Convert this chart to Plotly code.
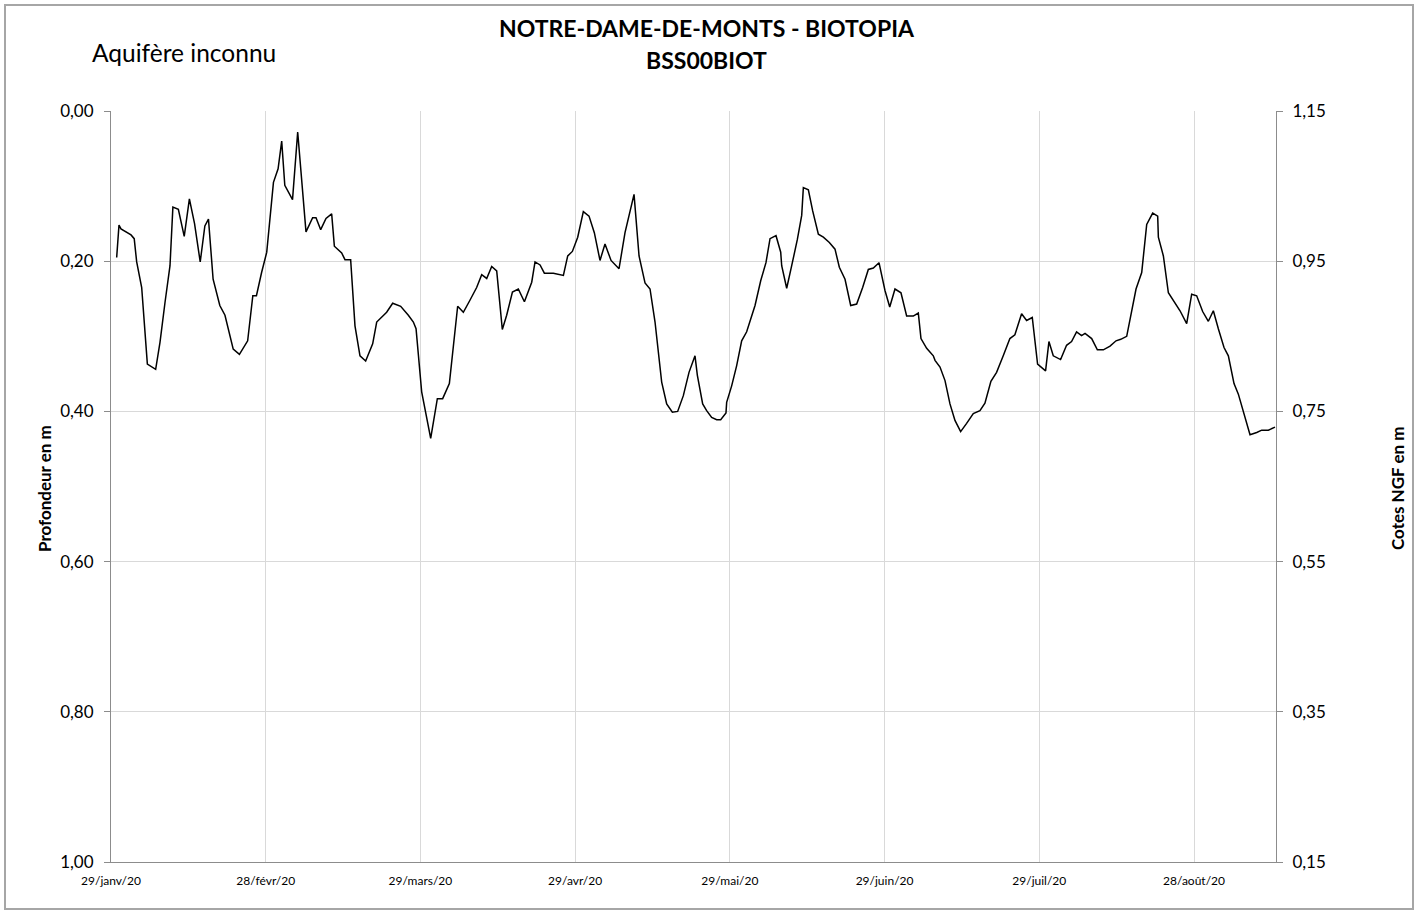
import plotly.graph_objects as go

# Rang de la mesure (0 = 29/01/2020) et profondeur de la nappe en m
jour = [
    1.1, 1.55, 1.94, 3.04, 3.88, 4.5, 4.98, 5.95, 7.05, 8.66, 9.5, 10.47, 11.44, 12.0,
    13.06, 14.2, 15.2, 16.2, 17.3, 18.2, 18.9, 19.8, 21.1, 22.1, 23.7, 24.9, 26.5, 27.5,
    28.2, 29.2, 30.2, 31.5, 32.4, 33.1, 33.7, 35.2, 36.2,
    37.81, 39.1, 39.75, 40.66, 41.69, 42.79, 43.31, 44.73, 45.37, 46.47, 47.31, 48.28,
    49.38, 50.74, 51.52, 53.45, 54.62, 56.17, 57.66, 58.63, 59.15, 60.24, 61.99, 63.28,
    64.31, 65.61, 67.22, 68.32, 69.6, 70.9, 71.88, 72.85, 73.82, 74.79,
    75.88, 76.72, 77.84, 78.98, 80.16, 81.58, 82.22, 83.2, 84.03, 85.78, 87.72, 88.56,
    89.46, 90.5, 91.59, 92.69, 93.72, 94.82, 95.79, 96.96, 98.51, 99.67, 101.42, 102.39,
    103.55, 104.52, 105.49, 106.78, 107.75, 108.85, 109.88, 110.98, 112.08, 113.24,
    113.7, 114.73, 115.5, 116.47, 117.45, 118.22, 119.25, 119.38, 120.35, 121.32, 122.29,
    123.26, 124.88, 125.98, 127.0, 127.79, 128.95, 129.86, 130.05, 131.02, 131.99, 133.09,
    133.93, 134.25, 135.22, 136.06, 137.16, 138.13, 139.29, 140.39, 141.23, 142.33, 143.43,
    144.59, 145.75, 146.85, 147.82, 148.92, 150.08,
    151.0, 152.02, 153.18, 154.28, 155.57, 156.54, 157.06, 158.16, 159.45, 159.78, 160.75,
    161.72, 162.68, 163.65, 164.75, 165.91, 167.2, 168.49, 169.46, 170.62, 171.72, 173.01,
    174.3, 175.27, 176.57, 177.54, 178.64, 179.67, 181.22, 181.87, 182.71, 184.13, 185.29,
    186.26, 187.23, 188.2,
    188.87, 190.16, 191.26, 192.42, 193.72, 194.88, 195.79, 196.95, 197.73, 198.76, 199.86,
    200.83, 201.99, 202.96, 203.09, 204.06, 205.03, 206.13, 207.29, 208.58, 209.55, 210.52,
    211.68, 212.78, 213.75, 214.72, 215.82, 216.66, 217.76, 218.6, 219.57, 220.86, 222.16,
    223.13, 224.42, 225.71,
]
profondeur = [
    0.195, 0.152, 0.157, 0.161, 0.165, 0.170, 0.201, 0.235, 0.337, 0.344, 0.308, 0.255, 0.206, 0.128,
    0.131, 0.167, 0.117, 0.150, 0.201, 0.153, 0.144, 0.224, 0.259, 0.272, 0.317, 0.324, 0.306, 0.246,
    0.246, 0.215, 0.188, 0.095, 0.077, 0.040, 0.099, 0.118, 0.028,
    0.161, 0.142, 0.142, 0.158, 0.143, 0.137, 0.180, 0.189, 0.198, 0.198, 0.286, 0.326,
    0.333, 0.310, 0.281, 0.268, 0.256, 0.260, 0.272, 0.281, 0.290, 0.374, 0.436, 0.383,
    0.383, 0.363, 0.260, 0.268, 0.252, 0.235, 0.218, 0.223, 0.207, 0.213,
    0.291, 0.272, 0.241, 0.237, 0.254, 0.228, 0.201, 0.205, 0.216, 0.216, 0.219, 0.193,
    0.187, 0.168, 0.134, 0.140, 0.162, 0.199, 0.177, 0.199, 0.210, 0.162, 0.111, 0.193,
    0.229, 0.237, 0.281, 0.361, 0.390, 0.401, 0.400, 0.379, 0.348, 0.326,
    0.352, 0.390, 0.399, 0.408, 0.411, 0.411, 0.402, 0.388, 0.366, 0.339, 0.306,
    0.294, 0.259, 0.226, 0.202, 0.170, 0.166, 0.188, 0.206, 0.236, 0.206, 0.171,
    0.139, 0.102, 0.105, 0.133, 0.164, 0.168, 0.175, 0.184, 0.208, 0.224, 0.259,
    0.257, 0.235, 0.211, 0.209, 0.202, 0.239,
    0.261, 0.237, 0.242, 0.273, 0.273, 0.269, 0.303, 0.316, 0.326, 0.332, 0.341,
    0.359, 0.390, 0.412, 0.427, 0.416, 0.403, 0.399, 0.389, 0.360, 0.348, 0.326,
    0.303, 0.298, 0.270, 0.279, 0.275, 0.337, 0.346, 0.307, 0.326, 0.331, 0.312,
    0.307, 0.294, 0.299,
    0.296, 0.303, 0.318, 0.318, 0.313, 0.306, 0.304, 0.300, 0.272, 0.237, 0.215,
    0.151, 0.136, 0.140, 0.168, 0.193, 0.242, 0.254, 0.266, 0.283, 0.244, 0.246,
    0.267, 0.280, 0.266, 0.290, 0.315, 0.326, 0.363, 0.377, 0.399, 0.431, 0.428,
    0.425, 0.425, 0.421,
]

# Repère NGF : cote = 1,15 - profondeur
repere_ngf = 1.15
cote_ngf = [round(repere_ngf - p, 3) for p in profondeur]

x_ticks = [0, 30, 60, 90, 120, 150, 180, 210]
x_labels = ["29/janv/20", "28/févr/20", "29/mars/20", "29/avr/20",
            "29/mai/20", "29/juin/20", "29/juil/20", "28/août/20"]
y_ticks = [0.0, 0.2, 0.4, 0.6, 0.8, 1.0]
y2_ticks = [0.15, 0.35, 0.55, 0.75, 0.95, 1.15]

W, H = 1427, 910
L, R, T, B = 111, 151, 111, 48
pw, ph = W - L - R, H - T - B


def px(x):
    return (x - L) / pw


def py(y):
    return (H - B - y) / ph


font_txt = "Lato, 'Open Sans', sans-serif"
axis_grey = "#8c8c8c"
grid_grey = "#d9d9d9"

fig = go.Figure()
fig.add_trace(go.Scatter(
    x=jour, y=profondeur, mode="lines",
    line=dict(color="#000000", width=1.5), yaxis="y", showlegend=False,
))
fig.add_trace(go.Scatter(
    x=jour, y=cote_ngf, mode="lines",
    line=dict(color="rgba(0,0,0,0)", width=0), yaxis="y2",
    showlegend=False, hoverinfo="skip",
))

fig.update_layout(
    width=W, height=H,
    margin=dict(l=L, r=R, t=T, b=B, pad=0),
    paper_bgcolor="white", plot_bgcolor="white",
    separators=", ",
    font=dict(family=font_txt, color="#000000"),
    xaxis=dict(
        range=[0, 225.9], tickvals=x_ticks, ticktext=x_labels,
        showgrid=True, gridcolor=grid_grey, gridwidth=1,
        showline=True, linecolor=axis_grey, linewidth=1,
        ticks="", tickfont=dict(size=12, family=font_txt),
        ticklabelstandoff=8, zeroline=False,
    ),
    yaxis=dict(
        range=[1.0, 0.0], tickvals=y_ticks, tickformat=".2f",
        showgrid=True, gridcolor=grid_grey, gridwidth=1,
        showline=True, linecolor=axis_grey, linewidth=1,
        ticks="outside", ticklen=6, tickcolor=axis_grey,
        tickfont=dict(size=17, family=font_txt),
        ticklabelstandoff=7, zeroline=False,
    ),
    yaxis2=dict(
        range=[0.15, 1.15], tickvals=y2_ticks, tickformat=".2f",
        overlaying="y", side="right", showgrid=False,
        showline=True, linecolor=axis_grey, linewidth=1,
        ticks="outside", ticklen=6, tickcolor=axis_grey,
        tickfont=dict(size=17, family=font_txt),
        ticklabelstandoff=6, zeroline=False,
    ),
)

annotations = [
    dict(text="<b>NOTRE-DAME-DE-MONTS - BIOTOPIA</b>", x=px(707), y=py(28),
         font=dict(size=23)),
    dict(text="<b>BSS00BIOT</b>", x=px(707), y=py(60), font=dict(size=23)),
    dict(text="Aquifère inconnu", x=px(90), y=py(53), xanchor="left",
         font=dict(size=24.5)),
    dict(text="<b>Profondeur en m</b>", x=px(44), y=py(489), textangle=-90,
         font=dict(size=17)),
    dict(text="<b>Cotes NGF en m</b>", x=px(1397), y=py(489), textangle=-90,
         font=dict(size=17)),
]
for a in annotations:
    a.setdefault("xanchor", "center")
    fig.add_annotation(xref="paper", yref="paper", yanchor="middle",
                       showarrow=False, font_family=font_txt, **a)

# Cadre extérieur du graphique
fig.add_shape(type="rect", xref="paper", yref="paper",
              x0=px(5), x1=px(1413), y0=py(909), y1=py(5),
              line=dict(color="#a6a6a6", width=2), layer="below")

fig.write_html("out.html")
